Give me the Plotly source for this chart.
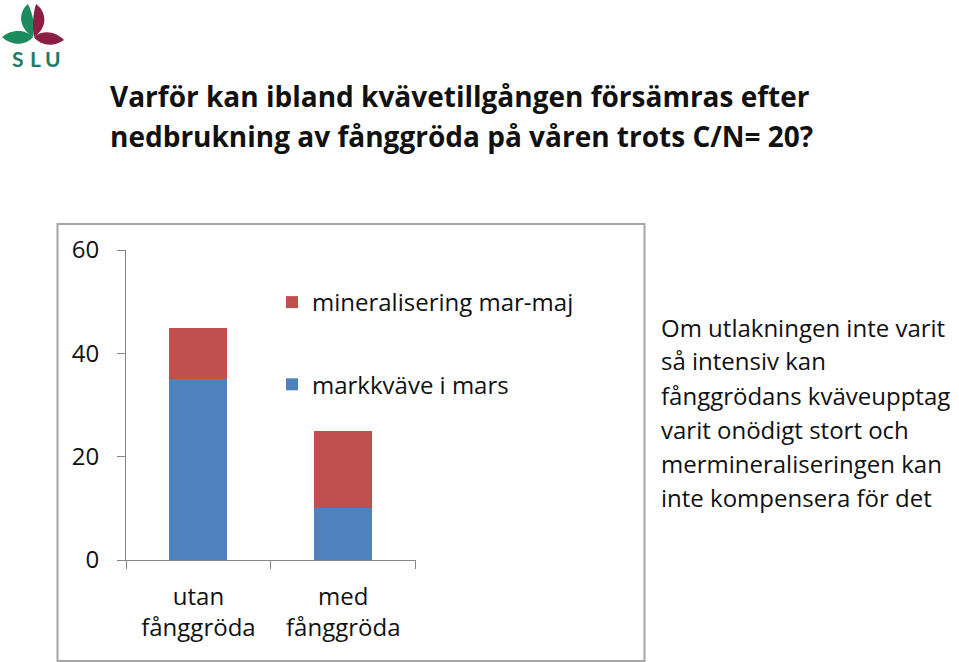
import plotly.graph_objects as go

W, H = 959, 662

# ---- data ----
categories = ["utan<br>fånggröda", "med<br>fånggröda"]
markkvave_mars = [35, 10]
mineralisering = [10, 15]
series_names = ["markkväve i mars", "mineralisering mar-maj"]
y_ticks = [0, 20, 40, 60]

title_lines = [
    "Varför kan ibland kvävetillgången försämras efter",
    "nedbrukning av fånggröda på våren trots C/N= 20?",
]
side_lines = [
    "Om utlakningen inte varit",
    "så intensiv kan",
    "fånggrödans kväveupptag",
    "varit onödigt stort och",
    "mermineraliseringen kan",
    "inte kompensera för det",
]

BLUE = "#4F81BD"
RED = "#C0504D"
AXIS = "#868686"
FONT = "Open Sans"
TXT = "#111111"


def px(x):
    return x / W


def py(y):
    return 1 - y / H


def path(cmds):
    out = []
    for c in cmds:
        if isinstance(c, str):
            out.append(c)
        else:
            out.append(f"{px(c[0]):.5f},{py(c[1]):.5f}")
    return " ".join(out)


fig = go.Figure()
fig.add_trace(go.Bar(x=categories, y=markkvave_mars, name=series_names[0],
                     marker=dict(color=BLUE, line=dict(width=0)),
                     legendgroup="a", legendrank=2))
fig.add_trace(go.Bar(x=categories, y=mineralisering, name=series_names[1],
                     marker=dict(color=RED, line=dict(width=0)),
                     legendgroup="b", legendrank=1))

fig.update_layout(
    width=W, height=H,
    margin=dict(l=0, r=0, t=0, b=0),
    paper_bgcolor="white", plot_bgcolor="white",
    template="none",
    barmode="stack", bargap=0.6,
    font=dict(family=FONT, size=24, color=TXT),
    showlegend=True,
    legend=dict(x=px(272), y=py(280), xanchor="left", yanchor="top",
                traceorder="grouped", tracegroupgap=48,
                font=dict(family=FONT, size=24, color=TXT),
                bgcolor="rgba(0,0,0,0)", itemwidth=30),
    xaxis=dict(domain=[px(126), px(415.7)], type="category",
               tickson="boundaries", ticks="outside", ticklen=8,
               tickcolor=AXIS, tickwidth=1,
               showline=True, linecolor=AXIS, linewidth=1,
               showgrid=False, zeroline=False,
               ticklabelstandoff=15,
               tickfont=dict(family=FONT, size=24, color=TXT)),
    yaxis=dict(domain=[py(560), py(250)], range=[0, 60],
               tickvals=y_ticks, ticks="outside", ticklen=8,
               tickcolor=AXIS, tickwidth=1,
               showline=True, linecolor=AXIS, linewidth=1,
               showgrid=False, zeroline=False,
               ticklabelstandoff=13,
               tickfont=dict(family=FONT, size=24, color=TXT)),
)

shapes = []
# chart frame
shapes.append(dict(type="rect", xref="paper", yref="paper",
                   x0=px(57.5), x1=px(644.5), y0=py(661), y1=py(224),
                   line=dict(color="#a6a6a6", width=2), layer="below"))
# logo leaves
GREEN = "#1c8c5e"
MAROON = "#8a1e44"
leaves = [
    (GREEN, ["M", (33, 37), "C", (17, 27), (19, 11), (28, 4),
             "C", (33, 14), (35, 25), (33, 37), "Z"]),
    (MAROON, ["M", (34, 37), "C", (49, 27), (46, 11), (36, 4),
              "C", (33, 14), (32, 25), (34, 37), "Z"]),
    (GREEN, ["M", (33, 37), "C", (24, 28), (10, 30), (2, 37),
             "C", (11, 46), (26, 46), (33, 37), "Z"]),
    (MAROON, ["M", (34, 37), "C", (44, 29), (56, 32), (64, 40),
              "C", (53, 48), (40, 45), (34, 37), "Z"]),
]
for col, cmds in leaves:
    shapes.append(dict(type="path", xref="paper", yref="paper",
                       path=path(cmds), fillcolor=col,
                       line=dict(width=0)))
fig.update_layout(shapes=shapes)

ann = []
for i, letter in enumerate(["S", "L", "U"]):
    ann.append(dict(text=letter, xref="paper", yref="paper",
                    x=px([18, 35, 52.5][i]), y=py(58),
                    xanchor="center", yanchor="middle", showarrow=False,
                    font=dict(family="Lato", size=21, color="#1f7a66",
                              weight="bold")))
for i, line in enumerate(title_lines):
    ann.append(dict(text=f"<b>{line}</b>", xref="paper", yref="paper",
                    x=px(108), y=py(96 + 40 * i),
                    xanchor="left", yanchor="middle", showarrow=False,
                    font=dict(family=FONT, size=28, color=TXT)))
for i, line in enumerate(side_lines):
    ann.append(dict(text=line, xref="paper", yref="paper",
                    x=px(659), y=py(327 + 34 * i),
                    xanchor="left", yanchor="middle", showarrow=False,
                    font=dict(family=FONT, size=24, color=TXT)))
fig.update_layout(annotations=ann)

fig.write_html("out.html")
